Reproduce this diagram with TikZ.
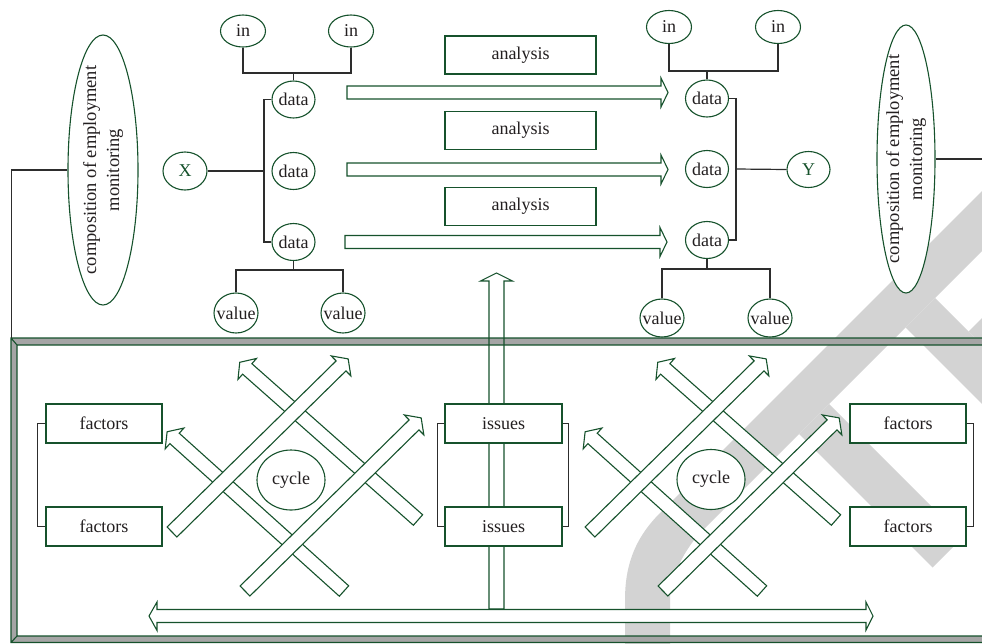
\documentclass[tikz,border=0pt]{standalone}
\usepackage{fontspec}
\setmainfont{Liberation Serif}
\usetikzlibrary{shapes.geometric}
\definecolor{grn}{RGB}{22,82,44}
\definecolor{txt}{RGB}{35,31,32}
\definecolor{conc}{RGB}{45,45,45}
\definecolor{wm}{RGB}{211,211,211}
\definecolor{frmgray}{RGB}{165,165,165}
\newcommand\zt[1]{\makebox[0pt]{#1}}
% tail, angle, length, shaft half width, head half width, head length, style
\newcommand\hollowarr[7]{\draw[#7, shift={#1}, rotate=#2] (0,-#4) -- ({#3-#6},-#4) -- ({#3-#6},-#5) -- (#3,0) -- ({#3-#6},#5) -- ({#3-#6},#4) -- (0,#4) -- cycle;}
\tikzset{
  el/.style={ellipse, draw=grn, fill=white, line width=1.1pt, inner sep=0pt},
  bx/.style={rectangle, draw=grn, fill=white, line width=1.1pt, inner sep=0pt, minimum width=116pt, minimum height=39pt},
  abx/.style={bx, minimum width=151pt, minimum height=38pt},
  conn/.style={draw=conc, line width=1.2pt},
  harr/.style={draw=grn, fill=white, line width=1.1pt, line join=miter},
  varr/.style={draw=grn, line width=1.1pt, line join=miter},
  comptext/.style={rotate=90, align=center, font=\fontsize{18.5}{23}\selectfont},
}
\begin{document}
\begin{tikzpicture}[x=1pt,y=-1pt, font=\fontsize{18}{22}\selectfont, text=txt]
\useasboundingbox (0,0) rectangle (982,643);
\clip (0,0) rectangle (982,643);

% watermark
\fill[wm] (1000,173) -- (660,513) .. controls (632,541) and (625,570) .. (625,600) -- (625,650) -- (670,650) -- (670,600) .. controls (670,578) and (684,549) .. (703,530) -- (1000,233) -- cycle;
\fill[wm] (799,434) -- (829,404) -- (962.5,537.5) -- (932.5,567.5) -- cycle;
\fill[wm] (905.5,327.5) -- (935,298) -- (1000,363) -- (1000,422) -- cycle;
\fill[wm] (968.5,331.5) -- (1000,300) -- (1000,360) -- (998.5,361.5) -- cycle;

% panel frame
\fill[frmgray, even odd rule] (11,338) rectangle (1000,642.5) (17,345) rectangle (1000,636);
\draw[grn, line width=1.1pt] (11,338) rectangle (1000,642.5) (17,345) rectangle (1000,636)
  (11,338) -- (17,345) (11,642.5) -- (17,636);

% top left group
\node[el, minimum width=45pt, minimum height=32pt] (inL1) at (243,31) {\zt{in}};
\node[el, minimum width=45pt, minimum height=32pt] (inL2) at (351,31) {\zt{in}};
\node[el, minimum width=43pt, minimum height=37pt] (dL1) at (293.5,99.5) {\zt{data}};
\node[el, minimum width=43pt, minimum height=37pt] (dL2) at (293.5,171) {\zt{data}};
\node[el, minimum width=43pt, minimum height=37pt] (dL3) at (293.5,242) {\zt{data}};
\node[el, minimum width=44pt, minimum height=38pt, text=grn] (X) at (185,171) {\zt{X}};
\node[el, minimum width=44pt, minimum height=40pt] (vL1) at (236,313) {\zt{value}};
\node[el, minimum width=44pt, minimum height=40pt] (vL2) at (343,313) {\zt{value}};
\node[el, minimum width=70pt, minimum height=270pt] (cL) at (103,170) {};
\node[comptext] (cLt) at (cL) {composition of employment\\monitoring};

% top right group
\node[el, minimum width=45pt, minimum height=33pt] (inR1) at (669,27) {\zt{in}};
\node[el, minimum width=45pt, minimum height=33pt] (inR2) at (778,27) {\zt{in}};
\node[el, minimum width=43pt, minimum height=37pt] (dR1) at (707,98.5) {\zt{data}};
\node[el, minimum width=43pt, minimum height=37pt] (dR2) at (707,169) {\zt{data}};
\node[el, minimum width=43pt, minimum height=37pt] (dR3) at (707,240) {\zt{data}};
\node[el, minimum width=43pt, minimum height=36pt, text=grn] (Y) at (808.5,169.5) {\zt{Y}};
\node[el, minimum width=44pt, minimum height=38pt] (vR1) at (662,318) {\zt{value}};
\node[el, minimum width=44pt, minimum height=38pt] (vR2) at (770,318) {\zt{value}};
\node[el, minimum width=58pt, minimum height=268pt] (cR) at (906,159) {};
\node[comptext] (cRt) at (cR) {composition of employment\\monitoring};

% analysis boxes and arrows
\node[abx] (an1) at (520.5,55) {analysis};
\node[abx] (an2) at (520.5,130.5) {analysis};
\node[abx] (an3) at (520.5,206.5) {analysis};
\hollowarr{(347,92.5)}{0}{321}{6.5}{14.5}{7}{harr}
\hollowarr{(347,169.5)}{0}{321}{6.5}{14.5}{7}{harr}
\hollowarr{(345,242)}{0}{322}{6.5}{14.5}{7}{harr}

% connectors top
\coordinate (jLt) at (293.5,73);
\coordinate (jLb) at (293.5,270);
\coordinate (bL) at (264,171);
\draw[conn] (inL1.south) |- (jLt) -| (inL2.south);
\draw[conn] (jLt) -- (dL1.north);
\draw[conn] (dL3.south) -- (jLb);
\draw[conn] (vL1.north) |- (jLb) -| (vL2.north);
\draw[conn] (dL1.west) -| (bL);
\draw[conn] (dL3.west) -| (bL);
\draw[conn] (X.east) -- (bL);
\coordinate (jRt) at (707,71);
\coordinate (jRb) at (707,269);
\coordinate (bR) at (736,169);
\draw[conn] (inR1.south) |- (jRt) -| (inR2.south);
\draw[conn] (jRt) -- (dR1.north);
\draw[conn] (dR3.south) -- (jRb);
\draw[conn] (vR1.north) |- (jRb) -| (vR2.north);
\draw[conn] (dR1.east) -| (bR);
\draw[conn] (dR3.east) -| (bR);
\draw[conn] (Y.west) -- (bR);
\coordinate (pTL) at (11.5,338);
\draw[conn] (cL.west) -| (pTL);
\coordinate (offR) at (990,159);
\draw[conn] (cR.east) -- (offR);

% cross arrows left
\hollowarr{(418,520)}{138.5}{238}{7}{14}{10}{harr}
\hollowarr{(344,591)}{138}{238}{7}{14}{10}{harr}
\hollowarr{(172,532)}{44.5}{247}{7}{14}{10}{harr}
\hollowarr{(245,591)}{44.5}{247}{7}{14}{10}{harr}
% cross arrows right
\hollowarr{(836,520)}{138.5}{238}{7}{14}{10}{harr}
\hollowarr{(762,591)}{138}{238}{7}{14}{10}{harr}
\hollowarr{(590,532)}{44.5}{247}{7}{14}{10}{harr}
\hollowarr{(663,591)}{44.5}{247}{7}{14}{10}{harr}

\node[el, minimum width=68pt, minimum height=60pt] (cyL) at (291,480) {\zt{cycle}};
\node[el, minimum width=68pt, minimum height=60pt] (cyR) at (711,479.5) {\zt{cycle}};

% vertical arrow
\hollowarr{(496.5,609)}{90}{336}{7.5}{16}{8}{varr}

% boxes
\node[bx] (fL1) at (104,423.5) {factors};
\node[bx] (fL2) at (104,526.5) {factors};
\node[bx] (fR1) at (908,423.5) {factors};
\node[bx] (fR2) at (908,526.5) {factors};
\node[bx, minimum width=117pt] (iss1) at (503.5,423.5) {issues};
\node[bx, minimum width=117pt] (iss2) at (503.5,526.5) {issues};
\draw[conn] (fL1.west) -- ++(-8,0) |- (fL2.west);
\draw[conn] (fR1.east) -- ++(7,0) |- (fR2.east);
\draw[conn] (iss1.west) -- ++(-7,0) |- (iss2.west);
\draw[conn] (iss1.east) -- ++(6,0) |- (iss2.east);

% double horizontal arrow
\draw[harr] (149,616) -- (157,602) -- (157,609.5) -- (866,609.5) -- (866,602) -- (873,616) -- (866,630) -- (866,622.5) -- (157,622.5) -- (157,630.5) -- cycle;
\end{tikzpicture}
\end{document}
